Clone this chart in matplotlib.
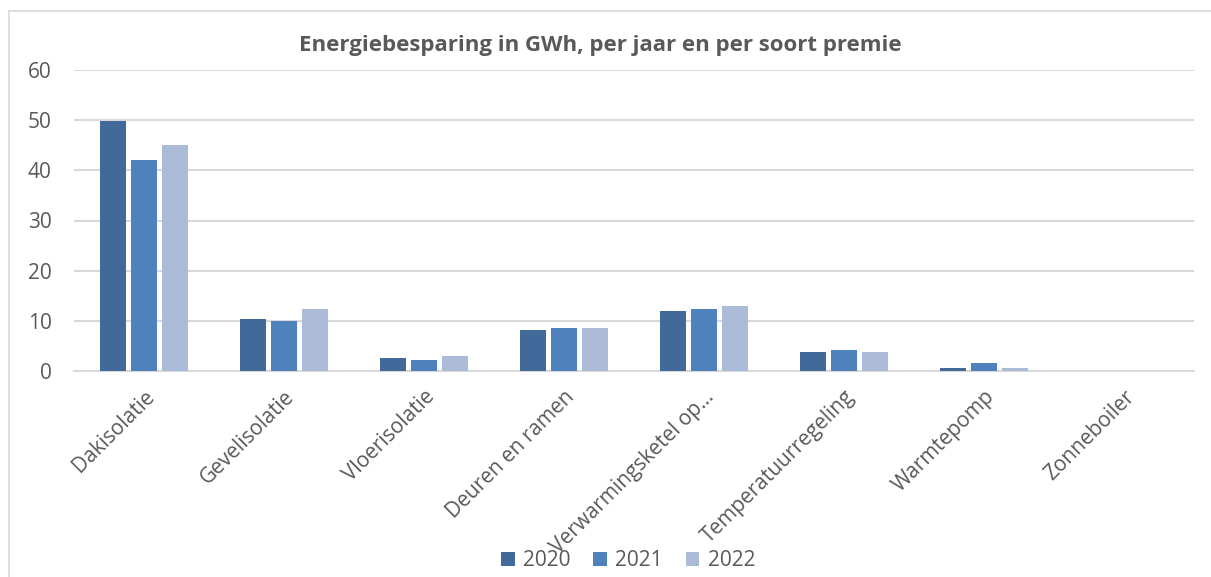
import numpy as np
from matplotlib import pyplot as plt
from matplotlib.lines import Line2D

# data (GWh)
categories = ['Dakisolatie', 'Gevelisolatie', 'Vloerisolatie', 'Deuren en ramen',
              'Verwarmingsketel op…', 'Temperatuurregeling', 'Warmtepomp', 'Zonneboiler']
years = ['2020', '2021', '2022']
values_2020 = [49.8, 10.4, 2.5, 8.2, 11.9, 3.7, 0.5, 0.0]
values_2021 = [42.1, 10.0, 2.1, 8.5, 12.4, 4.1, 1.5, 0.0]
values_2022 = [45.0, 12.4, 3.05, 8.6, 12.9, 3.85, 0.5, 0.0]
y_ticks = [0, 10, 20, 30, 40, 50, 60]

colors = ['#416A9B', '#4F81BD', '#ABBAD7']
TEXT_COLOR = '#595959'
GRID_COLOR = '#D9D9D9'

plt.rcParams['font.family'] = ['Open Sans', 'DejaVu Sans']

W, H = 1211, 577
fig = plt.figure(figsize=(W / 100, H / 100), dpi=100)

# chart frame (only the left and top edges are visible in the crop)
fig.add_artist(Line2D([9 / W, 9 / W], [0, 1 - 11 / H], color=GRID_COLOR, lw=1.2))
fig.add_artist(Line2D([9 / W, 1], [1 - 11 / H, 1 - 11 / H], color=GRID_COLOR, lw=1.2))

ax = fig.add_axes([74 / W, 1 - 371 / H, 1120 / W, 301 / H])

x = np.arange(len(categories))
step = 0.222
for i, (series, color, year) in enumerate(zip([values_2020, values_2021, values_2022], colors, years)):
    ax.bar(x + (i - 1) * step, series, width=0.18, color=color, label=year, zorder=3)

ax.set_xlim(-0.5, len(categories) - 0.5)
ax.set_ylim(0, 60)
ax.set_yticks(y_ticks)
ax.yaxis.grid(True, color=GRID_COLOR, linewidth=1.5, zorder=0)
ax.set_axisbelow(True)

for side in ['top', 'right', 'left']:
    ax.spines[side].set_visible(False)
ax.spines['bottom'].set_color(GRID_COLOR)
ax.spines['bottom'].set_linewidth(1.5)

ax.tick_params(axis='both', length=0, colors=TEXT_COLOR, labelsize=15)
ax.tick_params(axis='y', pad=16)
ax.set_xticks(x)
ax.set_xticklabels(categories, rotation=45, ha='right', va='top', rotation_mode='anchor')
ax.tick_params(axis='x', pad=11)

fig.text(600 / W, 1 - 45 / H, 'Energiebesparing in GWh, per jaar en per soort premie',
         ha='center', va='center', fontsize=16, fontweight='bold', color=TEXT_COLOR)

fig.legend(loc='center', bbox_to_anchor=(628 / W, 1 - 561 / H), ncol=3, frameon=False,
           fontsize=15, labelcolor=TEXT_COLOR, handlelength=0.65, handleheight=0.65,
           handletextpad=0.4, columnspacing=1.1)

fig.savefig('out.png', dpi=100)
